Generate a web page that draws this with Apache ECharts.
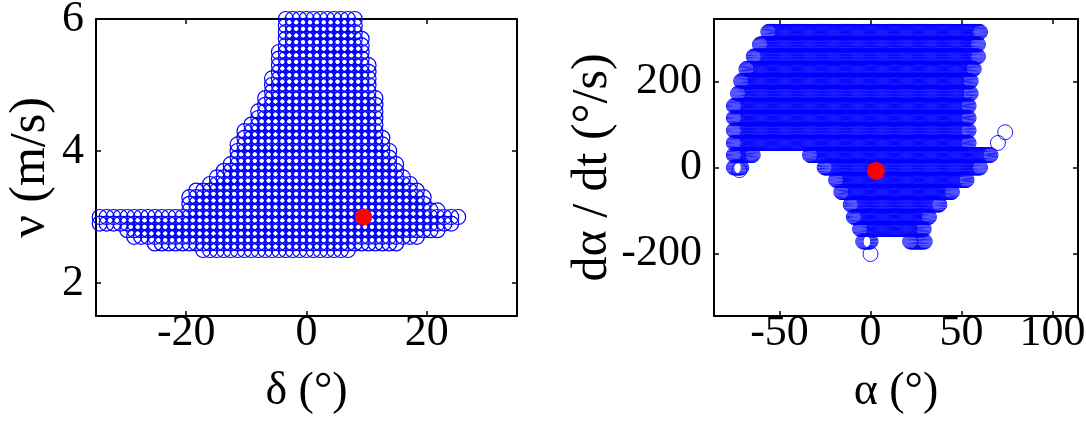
<!DOCTYPE html>
<html>
<head>
<meta charset="utf-8">
<script src="https://cdn.jsdelivr.net/npm/echarts@6/dist/echarts.min.js"></script>
<style>html,body{margin:0;padding:0;background:#fff}#c{width:1086px;height:421px}</style>
</head>
<body>
<div id="c"></div>
<script>
// ---- Left panel: v (m/s) rows and the δ extent of each row (degrees) ----
const vRows    = [6.0, 5.9, 5.8, 5.7, 5.6, 5.5, 5.4, 5.3, 5.2, 5.1, 5.0, 4.9, 4.8, 4.7, 4.6, 4.5, 4.4, 4.3, 4.2, 4.1, 4.0, 3.9, 3.8, 3.7, 3.6, 3.5, 3.4, 3.3, 3.2, 3.1, 3.0, 2.9, 2.8, 2.7, 2.6, 2.5];
const deltaMin = [-3, -3, -4, -4, -4, -5, -5, -5, -5, -6, -6, -6, -7, -7, -8, -8, -9, -10, -10, -11, -12, -12, -13, -14, -15, -16, -18, -19, -19, -19, -35, -34, -30, -29, -25, -17];
const deltaMax = [8, 8, 8, 9, 9, 9, 9, 10, 10, 10, 10, 10, 11, 11, 11, 11, 12, 12, 13, 13, 14, 14, 15, 15, 16, 17, 18, 19, 20, 22, 25, 24, 22, 18, 15, 7];
const deltaStep = 1.146;          // grid spacing of δ samples
const leftMarker = [9.5, 3.0];    // red point (δ, v)

// ---- Right panel: dα/dt (°/s) rows and α segments of each row (degrees) ----
const rateRows = [315, 286, 258, 229, 201, 172, 143, 115, 86, 57, 29, 0, -29, -57, -86, -115, -143, -172, -201];
const alphaSegs = [
  [[-56, 60]],
  [[-61, 59]],
  [[-64, 59]],
  [[-68, 57]],
  [[-71, 55]],
  [[-73, 55]],
  [[-75, 54]],
  [[-75, 54]],
  [[-75, 54]],
  [[-75, 54]],
  [[-75, -65], [-33, 66]],
  [[-75, -71], [-25, 60]],
  [[-19, 53]],
  [[-16, 45]],
  [[-11, 38]],
  [[-9, 32]],
  [[-6, 29]],
  [[-4, 0], [22, 30]],
  [[0, 0]]
];
const alphaStep = 0.573;          // grid spacing of α samples
const rightExtras = [[74, 82], [70, 57], [-72, -6]];
const rightMarker = [3, -8];      // red point (α, dα/dt)

// ---- tick labels ----
const leftXTicks = [-20, 0, 20];
const leftYTicks = [2, 4, 6];
const rightXTicks = [-50, 0, 50, 100];
const rightYTicks = [-200, 0, 200];

// build sample grids from the rows
const leftPts = [];
vRows.forEach((v, i) => {
  const k0 = Math.ceil(deltaMin[i] / deltaStep - 0.45), k1 = Math.floor(deltaMax[i] / deltaStep + 0.45);
  for (let k = k0; k <= k1; k++) leftPts.push([k * deltaStep, v]);
});
const rightPts = [];
rateRows.forEach((r, i) => {
  alphaSegs[i].forEach(([a, b]) => {
    const k0 = Math.ceil(a / alphaStep - 0.45), k1 = Math.floor(b / alphaStep + 0.45);
    for (let k = k0; k <= k1; k++) rightPts.push([k * alphaStep, r]);
  });
});
rightExtras.forEach(p => rightPts.push(p));

const FONT = 'Liberation Serif';
const FS = 44;
function xAx(grid, min, max, ticks, pos, name) {
  return {
    type: 'value', gridIndex: grid, min, max, position: pos,
    axisLine: { show: true, onZero: false, lineStyle: { color: '#000', width: 2 } },
    axisTick: { show: true, inside: true, length: 5, customValues: ticks, lineStyle: { color: '#000', width: 1.5 } },
    axisLabel: { show: pos === 'bottom', customValues: ticks, fontFamily: FONT, fontSize: FS, color: '#000', margin: -5 },
    splitLine: { show: false },
    name: pos === 'bottom' ? name : '', nameLocation: 'middle', nameGap: 53,
    nameTextStyle: { fontFamily: FONT, fontSize: 46, color: '#000' }
  };
}
function yAx(grid, min, max, ticks, pos, name) {
  return {
    type: 'value', gridIndex: grid, min, max, position: pos,
    axisLine: { show: true, onZero: false, lineStyle: { color: '#000', width: 2 } },
    axisTick: { show: true, inside: true, length: 5, customValues: ticks, lineStyle: { color: '#000', width: 1.5 } },
    axisLabel: { show: pos === 'left', customValues: ticks, fontFamily: FONT, fontSize: FS, color: '#000', margin: 12 },
    splitLine: { show: false },
    name: pos === 'left' ? name : '', nameLocation: 'middle', nameGap: pos === 'left' ? 40 : 0, nameRotate: 90,
    nameTextStyle: { fontFamily: FONT, fontSize: 50, color: '#000' }
  };
}
const blueStyleL = { color: 'rgba(0,0,0,0)', borderColor: '#0000ff', borderWidth: 1.2, opacity: 1 };
const blueStyleR = { color: 'rgba(0,0,0,0)', borderColor: '#0000ff', borderWidth: 0.9, opacity: 1 };
const chart = echarts.init(document.getElementById('c'), null, { renderer: 'canvas' });
chart.setOption({
  animation: false,
  backgroundColor: '#fff',
  grid: [
    { left: 96, top: 19, width: 421, height: 297, outerBoundsMode: 'none', containLabel: false },
    { left: 714, top: 19, width: 364, height: 297, outerBoundsMode: 'none', containLabel: false }
  ],
  xAxis: [
    xAx(0, -35, 35, leftXTicks, 'bottom', 'δ (°)'),
    xAx(0, -35, 35, leftXTicks, 'top', ''),
    xAx(1, -86, 114, rightXTicks, 'bottom', 'α (°)'),
    xAx(1, -86, 114, rightXTicks, 'top', '')
  ],
  yAxis: [
    yAx(0, 1.5, 6, leftYTicks, 'left', 'ν (m/s)'),
    yAx(0, 1.5, 6, leftYTicks, 'right', ''),
    Object.assign(yAx(1, -345, 345, rightYTicks, 'left', 'dα / dt (°/s)'), { nameGap: 76 }),
    yAx(1, -345, 345, rightYTicks, 'right', '')
  ],
  series: [
    { type: 'scatter', xAxisIndex: 0, yAxisIndex: 0, data: leftPts, symbol: 'circle', symbolSize: 15,
      itemStyle: blueStyleL, clip: false, large: false, progressive: 0, silent: true },
    { type: 'scatter', xAxisIndex: 0, yAxisIndex: 0, data: [leftMarker], symbol: 'circle', symbolSize: 17,
      itemStyle: { color: '#ff0000', opacity: 1 }, clip: false, silent: true, z: 5 },
    { type: 'scatter', xAxisIndex: 2, yAxisIndex: 2, data: rightPts, symbol: 'circle', symbolSize: 15,
      itemStyle: blueStyleR, clip: false, large: false, progressive: 0, silent: true },
    { type: 'scatter', xAxisIndex: 2, yAxisIndex: 2, data: [rightMarker], symbol: 'circle', symbolSize: 18,
      itemStyle: { color: '#ff0000', opacity: 1 }, clip: false, silent: true, z: 5 }
  ]
});
</script>
</body>
</html>
